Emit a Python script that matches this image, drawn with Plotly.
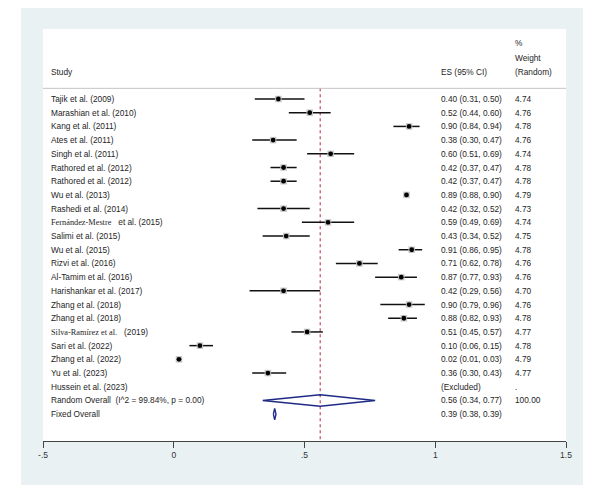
import plotly.graph_objects as go

# ---------------- data ----------------
studies = [
    "Tajik et al. (2009)", "Marashian et al. (2010)", "Kang et al. (2011)",
    "Ates et al. (2011)", "Singh et al. (2011)", "Rathored et al. (2012)",
    "Rathored et al. (2012)", "Wu et al. (2013)", "Rashedi et al. (2014)",
    "<span style=\"font-family:'Liberation Serif'\">Fernández-Mestre</span>   et al. (2015)",
    "Salimi et al. (2015)", "Wu et al. (2015)", "Rizvi et al. (2016)",
    "Al-Tamim et al. (2016)", "Harishankar et al. (2017)", "Zhang et al. (2018)",
    "Zhang et al. (2018)",
    "<span style=\"font-family:'Liberation Serif'\">Silva-Ramírez et al.</span>   (2019)",
    "Sari et al. (2022)", "Zhang et al. (2022)", "Yu et al. (2023)",
    "Hussein et al. (2023)",
]
es = [0.40, 0.52, 0.90, 0.38, 0.60, 0.42, 0.42, 0.89, 0.42, 0.59, 0.43, 0.91,
      0.71, 0.87, 0.42, 0.90, 0.88, 0.51, 0.10, 0.02, 0.36, None]
lo = [0.31, 0.44, 0.84, 0.30, 0.51, 0.37, 0.37, 0.88, 0.32, 0.49, 0.34, 0.86,
      0.62, 0.77, 0.29, 0.79, 0.82, 0.45, 0.06, 0.01, 0.30, None]
hi = [0.50, 0.60, 0.94, 0.47, 0.69, 0.47, 0.47, 0.90, 0.52, 0.69, 0.52, 0.95,
      0.78, 0.93, 0.56, 0.96, 0.93, 0.57, 0.15, 0.03, 0.43, None]
weights = ["4.74", "4.76", "4.78", "4.76", "4.74", "4.78", "4.78", "4.79", "4.73",
           "4.74", "4.75", "4.78", "4.76", "4.76", "4.70", "4.76", "4.78", "4.77",
           "4.78", "4.79", "4.77", "."]

random_label = "Random Overall  (I^2 = 99.84%, p = 0.00)"
random_es, random_lo, random_hi, random_w = 0.56, 0.34, 0.77, "100.00"
fixed_label = "Fixed Overall"
fixed_es, fixed_lo, fixed_hi = 0.386, 0.381, 0.391

tick_vals = [-0.5, 0, 0.5, 1, 1.5]
tick_text = ["-.5", "0", ".5", "1", "1.5"]

# ---------------- styling ----------------
FONT = "Liberation Sans, Arial, sans-serif"
TXT = "#1e1e1e"
NAVY = "#1f2a86"
RED = "#c03a4e"
BG = "#e9f1f3"
FS = 8.3

n = len(studies)
rows = list(range(n))
r_random = n
r_fixed = n + 1
y_top, y_bot = -5.11, 24.96
sep_y = -0.78

fig = go.Figure()

# CI lines
cx, cy = [], []
for i in rows:
    if es[i] is None:
        continue
    cx += [lo[i], hi[i], None]
    cy += [i, i, None]
fig.add_trace(go.Scatter(x=cx, y=cy, mode="lines",
                         line=dict(color="#111111", width=1.5),
                         hoverinfo="skip", showlegend=False))

px_ = [es[i] for i in rows if es[i] is not None]
py_ = [i for i in rows if es[i] is not None]
fig.add_trace(go.Scatter(x=px_, y=py_, mode="markers",
                         marker=dict(symbol="square", size=6.5, color="#c6c6c6",
                                     line=dict(width=0)),
                         hoverinfo="skip", showlegend=False))
fig.add_trace(go.Scatter(x=px_, y=py_, mode="markers",
                         marker=dict(symbol="circle", size=4.8, color="#000000",
                                     line=dict(width=0)),
                         hoverinfo="skip", showlegend=False))

# diamonds
h = 0.42
for (e, l, u, r) in [(random_es, random_lo, random_hi, r_random),
                     (fixed_es, fixed_lo, fixed_hi, r_fixed)]:
    fig.add_trace(go.Scatter(x=[l, e, u, e, l], y=[r, r - h, r, r + h, r],
                             mode="lines", line=dict(color=NAVY, width=1.4),
                             hoverinfo="skip", showlegend=False))

# ---------------- text columns ----------------
X_STUDY, X_ES, X_W = 0.0115, 0.758, 0.898
ann = []

def add_text(x, y, t, yref="y"):
    ann.append(dict(x=x, y=y, xref="paper", yref=yref, text=t, showarrow=False,
                    xanchor="left", yanchor="middle",
                    font=dict(family=FONT, size=FS, color=TXT)))

add_text(X_STUDY, -2.0, "Study")
add_text(X_ES, -2.0, "ES (95% CI)")
add_text(X_W, -4.1, "%")
add_text(X_W, -3.0, "Weight")
add_text(X_W, -2.0, "(Random)")

for i in rows:
    add_text(X_STUDY, i, studies[i])
    if es[i] is None:
        add_text(X_ES, i, "(Excluded)")
    else:
        add_text(X_ES, i, f"{es[i]:.2f} ({lo[i]:.2f}, {hi[i]:.2f})")
    add_text(X_W, i, weights[i])

add_text(X_STUDY, r_random, random_label)
add_text(X_ES, r_random, f"{random_es:.2f} ({random_lo:.2f}, {random_hi:.2f})")
add_text(X_W, r_random, random_w)
add_text(X_STUDY, r_fixed, fixed_label)
add_text(X_ES, r_fixed, f"{fixed_es:.2f} ({fixed_lo:.2f}, {fixed_hi:.2f})")

# ---------------- shapes ----------------
shapes = [
    dict(type="rect", xref="paper", yref="paper", x0=-0.0421, x1=1.0325,
         y0=-0.1068, y1=1.0534, fillcolor=BG, line=dict(width=0), layer="below"),
    dict(type="rect", xref="paper", yref="paper", x0=0, x1=1, y0=0, y1=1,
         fillcolor="white", line=dict(width=0), layer="below"),
    dict(type="line", xref="paper", yref="y", x0=0, x1=1, y0=sep_y, y1=sep_y,
         line=dict(color="#c4c4c4", width=1)),
    dict(type="line", xref="x", yref="y", x0=random_es, x1=random_es,
         y0=sep_y, y1=y_bot, line=dict(color=RED, width=1.1, dash="3px,3px"),
         layer="below"),
]

# page body has an 8px margin: figure is offset by 8px, so size and margins compensate
fig.update_layout(
    width=592, height=477,
    margin=dict(l=35, r=34, t=21, b=44),
    paper_bgcolor="white", plot_bgcolor="white",
    annotations=ann, shapes=shapes,
    xaxis=dict(range=[-0.5, 1.5], tickvals=tick_vals, ticktext=tick_text,
               showgrid=False, zeroline=False, showline=True,
               linecolor="#444444", linewidth=1.3, ticks="outside",
               ticklen=6, tickwidth=1.3, tickcolor="#444444",
               tickfont=dict(family=FONT, size=8.5, color="#333333"),
               fixedrange=True),
    yaxis=dict(range=[y_bot, y_top], visible=False, showgrid=False,
               zeroline=False, fixedrange=True),
    showlegend=False,
)

fig.write_html("out.html", config={"displayModeBar": False})
